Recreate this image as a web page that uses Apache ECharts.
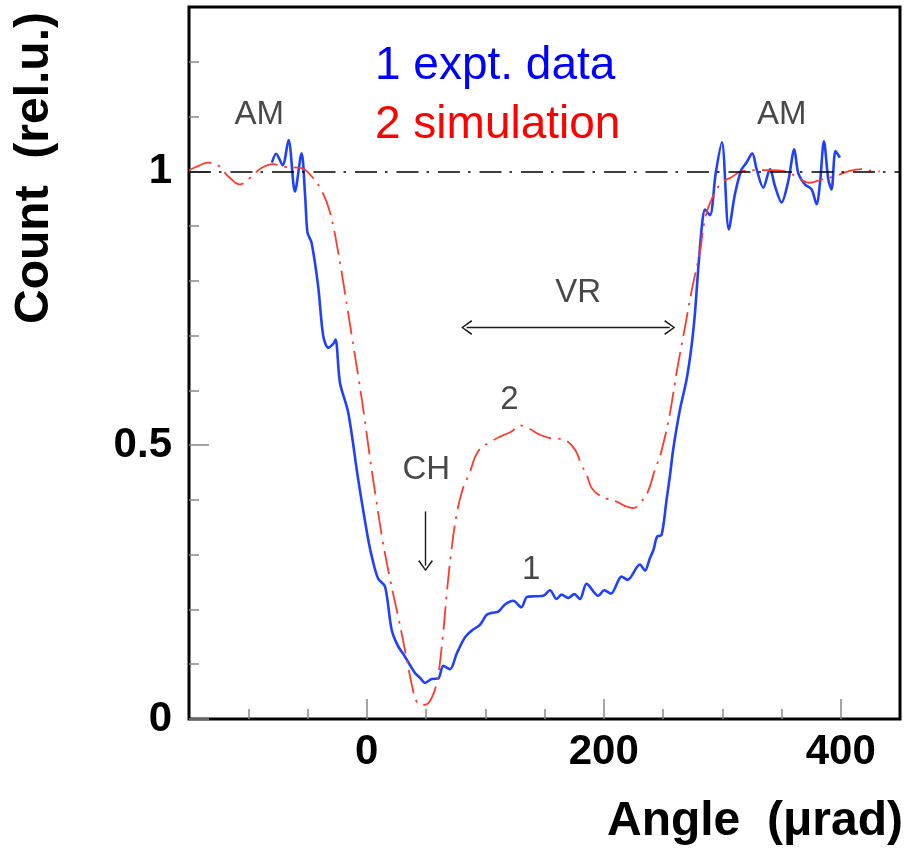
<!DOCTYPE html>
<html>
<head>
<meta charset="utf-8">
<script src="https://cdn.jsdelivr.net/npm/echarts@6/dist/echarts.min.js"></script>
<style>
  html, body { margin: 0; padding: 0; background: #fff; }
  #chart { width: 905px; height: 850px; }
</style>
</head>
<body>
<div id="chart"></div>
<script>
// expt. data (curve 1), angle in urad / count
var exptX = [-80, -76.5, -71, -66, -60.6, -55, -52, -50, -46.6, -41, -36.7, -32.5, -28, -26.3, -22.6, -15.6, -7.2, 1.3, 5, 9.7,
  15.4, 21, 26, 32.2, 40.7, 45, 49.1, 54.7, 60.3, 64.6, 70.2, 76, 82.9, 89, 95.5, 101.1, 106, 111, 116.6, 123.6,
  130.4, 135.3, 142, 149, 154.6, 160.2, 164.4, 170, 175.1, 179.9, 185.5, 195.4, 200.4, 206.1, 215, 220.1, 230.5, 234.8, 239, 242,
  245, 248.8, 253, 255.9, 258.6, 264.3, 269.9, 274.1, 277, 279.7, 283.1, 285.4, 289.6, 294.5, 299.7, 305.5, 310.7, 316, 320.5, 325.3,
  329, 334.6, 340.3, 344.5, 350, 355.7, 360.8, 364.1, 369.8, 375.4, 379.6, 382.5, 385.8, 389.5, 392.2, 395.6, 399.3];
var exptY = [1.016, 1.032, 1.011, 1.057, 0.963, 1.033, 0.955, 0.888, 0.870, 0.790, 0.699, 0.678, 0.686, 0.693, 0.614, 0.559, 0.437, 0.327, 0.29, 0.256,
  0.242, 0.163, 0.135, 0.114, 0.084, 0.075, 0.066, 0.073, 0.074, 0.097, 0.091, 0.12, 0.149, 0.162, 0.172, 0.190, 0.194, 0.196, 0.209, 0.216,
  0.204, 0.223, 0.224, 0.225, 0.235, 0.219, 0.227, 0.221, 0.228, 0.219, 0.247, 0.225, 0.235, 0.229, 0.260, 0.254, 0.282, 0.271, 0.294, 0.309,
  0.333, 0.336, 0.40, 0.445, 0.492, 0.565, 0.620, 0.681, 0.742, 0.821, 0.906, 0.930, 0.920, 0.997, 1.053, 0.894, 0.958, 1.002, 1.016, 1.033,
  1.004, 0.970, 1.004, 0.973, 0.943, 0.982, 1.040, 0.997, 0.976, 0.967, 0.940, 0.979, 1.055, 0.985, 0.967, 1.037, 1.025];

// simulation (curve 2)
var simX = [-150, -142, -134, -125, -117, -107, -98.6, -88.8, -79, -69, -55, -46.6, -38.1, -31, -24, -18.4, -12.8, -7.2, -2.1, 2.7,
  7.8, 13.1, 19.6, 27.2, 33.9, 37.8, 42, 46, 49.1, 54.7, 59.7, 64, 67.3, 71, 75.8, 81, 86.2, 94.1, 105.3, 114,
  122.2, 129.3, 136.3, 146.2, 154.6, 161, 168.6, 175.7, 181.3, 186.1, 189.7, 195.4, 203, 210.8, 217.9, 224.9, 230.5, 237, 243.2, 248.3,
  255.9, 261.4, 267.9, 274.1, 281.2, 285.4, 291, 299.4, 307.8, 316.3, 330.4, 341.6, 352.9, 364.1, 373.2, 383.8, 395.1, 406.3, 417.6, 428.9, 433];
var simY = [1.002, 1.010, 1.016, 1.010, 0.991, 0.976, 0.988, 1.006, 1.013, 1.008, 1.006, 0.991, 0.965, 0.925, 0.851, 0.778, 0.702, 0.626, 0.553, 0.477,
  0.403, 0.330, 0.256, 0.180, 0.108, 0.065, 0.032, 0.026, 0.026, 0.038, 0.074, 0.147, 0.224, 0.300, 0.373, 0.42, 0.446, 0.489, 0.507, 0.517,
  0.525, 0.536, 0.531, 0.519, 0.513, 0.512, 0.508, 0.492, 0.464, 0.443, 0.422, 0.410, 0.402, 0.397, 0.389, 0.385, 0.394, 0.414, 0.455, 0.486,
  0.559, 0.632, 0.708, 0.781, 0.854, 0.912, 0.949, 0.979, 0.989, 1.0, 1.002, 1.002, 1.0, 0.988, 0.979, 0.985, 0.991, 1.0, 1.004, 1.0, 1.0];

// axes
var xMinorTicks = [-100, -50, 50, 100, 150, 250, 300, 350];
var xMajorTicks = [0, 200, 400];
var yMinorTicks = [0.1, 0.2, 0.3, 0.4, 0.6, 0.7, 0.8, 0.9, 1.1, 1.2];
var yMajorTicks = [0, 0.5, 1];

// text annotations [x, y, text]
var notes = [[-90.7, 1.103, 'AM'], [350.2, 1.103, 'AM'], [178.5, 0.778, 'VR'], [50.2, 0.455, 'CH'], [120.3, 0.583, '2'], [138.8, 0.272, '1']];
var vrArrow = [[84.3, 0.715], [255.7, 0.715]];
var chArrow = [[49.6, 0.379], [49.6, 0.280]];

function zip(xs, ys) {
  return xs.map(function (x, i) { return [x, ys[i]]; });
}

var chevron = 'path://M0,10 L5,0 L10,10 L9,10.8 L5,2.2 L1,10.8 Z';
var font = '"Liberation Sans", Arial, Helvetica, sans-serif';
var tickStyle = { color: '#888', width: 1.5 };

var chart = echarts.init(document.getElementById('chart'));
chart.setOption({
  animation: false,
  grid: { left: 189, right: 5, top: 7, bottom: 131, show: true, borderColor: '#000', borderWidth: 3 },
  legend: {
    orient: 'vertical', left: 365, top: 32, icon: 'none', itemWidth: 0, itemGap: 0,
    textStyle: { fontFamily: font, fontSize: 46, lineHeight: 59 },
    data: [
      { name: '1 expt. data', textStyle: { color: '#0000ff' } },
      { name: '2 simulation', textStyle: { color: '#ff0000' } }
    ]
  },
  xAxis: [{
    type: 'value', min: -150, max: 450, splitLine: { show: false },
    axisLine: { show: false, onZero: false },
    axisTick: { inside: true, length: 10, lineStyle: tickStyle, customValues: xMinorTicks },
    axisLabel: { customValues: xMajorTicks, margin: 12, color: '#000', fontFamily: font, fontWeight: 'bold', fontSize: 42 }
  }, {
    type: 'value', min: -150, max: 450, position: 'bottom', splitLine: { show: false },
    axisLine: { show: false, onZero: false },
    axisTick: { inside: true, length: 20, lineStyle: tickStyle, customValues: xMajorTicks },
    axisLabel: { show: false }
  }],
  yAxis: [{
    type: 'value', min: 0, max: 1.3, splitLine: { show: false },
    axisLine: { show: false, onZero: false },
    axisTick: { inside: true, length: 10, lineStyle: tickStyle, customValues: yMinorTicks },
    axisLabel: { customValues: yMajorTicks, margin: 17, color: '#000', fontFamily: font, fontWeight: 'bold', fontSize: 42 }
  }, {
    type: 'value', min: 0, max: 1.3, position: 'left', splitLine: { show: false },
    axisLine: { show: false, onZero: false },
    axisTick: { inside: true, length: 20, lineStyle: tickStyle, customValues: yMajorTicks },
    axisLabel: { show: false }
  }],
  series: [{
    name: '1 expt. data', type: 'line', data: zip(exptX, exptY), showSymbol: false, smooth: 0.3,
    lineStyle: { color: '#2040ff', width: 2.6 }, itemStyle: { color: '#0000ff' },
    markLine: {
      silent: true, symbol: 'none', label: { show: false },
      lineStyle: { color: '#000', width: 1.5, type: [22, 8, 2.5, 9] },
      data: [{ yAxis: 1 }]
    }
  }, {
    name: '2 simulation', type: 'line', data: zip(simX, simY), showSymbol: false, smooth: 0.4,
    lineStyle: { color: '#ff3a2a', width: 1.8, type: [24, 7, 2.5, 7] }, itemStyle: { color: '#ff0000' }
  }, {
    name: 'notes', type: 'scatter', symbolSize: 0, silent: true,
    data: notes.map(function (n) { return { value: [n[0], n[1]], name: n[2] }; }),
    label: {
      show: true, position: 'inside', formatter: '{b}',
      color: '#1a1a1a', fontFamily: font, fontSize: 33
    },
    markLine: {
      silent: true, label: { show: false },
      symbolSize: [15, 11],
      lineStyle: { color: '#1a1a1a', width: 1.4, type: 'solid' },
      data: [
        [{ coord: vrArrow[0], symbol: chevron }, { coord: vrArrow[1], symbol: chevron }],
        [{ coord: chArrow[0], symbol: 'none' }, { coord: chArrow[1], symbol: chevron }]
      ]
    }
  }],
  graphic: [{
    type: 'text', x: 35, y: 168, rotation: Math.PI / 2,
    style: { text: 'Count  (rel.u.)', fill: '#000', font: 'bold 48px ' + font, textAlign: 'center', textVerticalAlign: 'middle' }
  }, {
    type: 'text', x: 903, y: 822,
    style: { text: 'Angle  (μrad)', fill: '#000', font: 'bold 48px ' + font, textAlign: 'right', textVerticalAlign: 'middle' }
  }]
});
</script>
</body>
</html>
